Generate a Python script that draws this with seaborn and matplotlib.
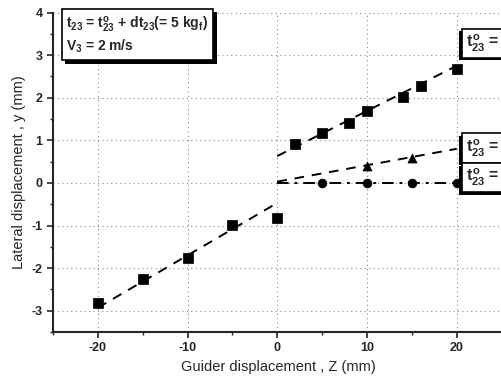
import matplotlib
matplotlib.use("Agg")
import matplotlib.pyplot as plt
import matplotlib.patheffects as pe
from matplotlib.ticker import MultipleLocator
import seaborn as sns
import pandas as pd

# ---- data ----
sq_z = [-20, -15, -10, -5, 0, 2, 5, 8, 10, 14, 16, 20]
sq_y = [-2.83, -2.25, -1.76, -0.98, -0.82, 0.92, 1.17, 1.41, 1.69, 2.02, 2.28, 2.68]
tri_z = [10, 15]
tri_y = [0.40, 0.59]
cir_z = [5, 10, 15, 20]
cir_y = [0.0, 0.0, 0.0, 0.0]
fit_neg_z = [-20, 0]
fit_neg_y = [-2.93, -0.47]
fit_pos_z = [0, 20]
fit_pos_y = [0.63, 2.75]
fit_tri_z = [0, 20]
fit_tri_y = [0.03, 0.80]
fit_cir_z = [0, 20]
fit_cir_y = [0.0, 0.0]
box_labels = ["$t^{o}_{23}$ = 10 kg$_f$", "$t^{o}_{23}$ = 4 kg$_f$", "$t^{o}_{23}$ = 0 kg$_f$"]
box_y = [3.28, 0.82, 0.12]

sns.set_style("ticks")
plt.rcParams['font.family'] = ['Liberation Sans', 'DejaVu Sans']
plt.rcParams['mathtext.fontset'] = 'custom'
plt.rcParams['mathtext.rm'] = 'Liberation Sans:bold'
plt.rcParams['mathtext.it'] = 'Liberation Sans:bold'
plt.rcParams['mathtext.bf'] = 'Liberation Sans:bold'
plt.rcParams['axes.unicode_minus'] = False

fig = plt.figure(figsize=(5.01, 3.86), dpi=100)
ax = fig.add_axes([0.1058, 0.1399, 0.899, 0.8277])

k = 'black'
sns.lineplot(x=fit_neg_z, y=fit_neg_y, ax=ax, color=k, lw=1.4, linestyle=(0, (5, 4)))
sns.lineplot(x=fit_pos_z, y=fit_pos_y, ax=ax, color=k, lw=1.4, linestyle=(0, (5, 4)))
sns.lineplot(x=fit_tri_z, y=fit_tri_y, ax=ax, color=k, lw=1.4, linestyle=(0, (5, 4)))
sns.lineplot(x=fit_cir_z, y=fit_cir_y, ax=ax, color=k, lw=1.4, linestyle=(0, (6, 3, 1.5, 3)))

sns.scatterplot(x=sq_z, y=sq_y, ax=ax, marker='s', s=42, color=k, edgecolor=k, zorder=5)
sns.scatterplot(x=tri_z, y=tri_y, ax=ax, marker='^', s=42, color=k, edgecolor=k, zorder=5)
sns.scatterplot(x=cir_z, y=cir_y, ax=ax, marker='o', s=40, color=k, edgecolor=k, zorder=5)

ax.set_xlim(-25, 25.2)
ax.set_ylim(-3.5, 4)
ax.xaxis.set_major_locator(MultipleLocator(10))
ax.xaxis.set_minor_locator(MultipleLocator(5))
ax.yaxis.set_major_locator(MultipleLocator(1))
ax.yaxis.set_minor_locator(MultipleLocator(0.5))
ax.tick_params(which='major', direction='out', length=4, width=1.2, labelsize=9)
ax.tick_params(which='minor', direction='out', length=2.5, width=1.0)
for lab in ax.get_xticklabels() + ax.get_yticklabels():
    lab.set_fontweight('bold')
for sp in ax.spines.values():
    sp.set_linewidth(1.5)
ax.spines['top'].set_visible(False)
ax.spines['right'].set_visible(False)
ax.grid(True, which='major', color='#888888', linestyle=(0, (1, 3)), lw=0.8)

ax.set_xlabel("Guider displacement , Z (mm)", fontsize=10.5)
ax.set_ylabel("Lateral displacement , y (mm)", fontsize=10.5)

shadow = [pe.SimplePatchShadow(offset=(2.5, -2.5), shadow_rgbFace='black', alpha=1.0), pe.Normal()]
shadow2 = [pe.SimplePatchShadow(offset=(-1.8, -1.8), shadow_rgbFace='black', alpha=1.0), pe.Normal()]

t = ax.text(-23.5, 3.93, "t$_{23}$ = t$^{o}_{23}$ + dt$_{23}$(= 5 kg$_f$)\nV$_3$ = 2 m/s",
            fontsize=10, fontweight='bold', va='top', ha='left', linespacing=1.2,
            bbox=dict(boxstyle='square,pad=0.35', fc='white', ec='black', lw=1.2), zorder=10)
t.get_bbox_patch().set_path_effects(shadow)

for lab, yy in zip(box_labels, box_y):
    tt = ax.text(21.0, yy, lab, fontsize=11.5, fontweight='bold', va='center', ha='left',
                 bbox=dict(boxstyle='square,pad=0.25', fc='white', ec='black', lw=1.2),
                 zorder=10, clip_on=False)
    tt.get_bbox_patch().set_path_effects(shadow2)

fig.savefig("out.png", dpi=100)
